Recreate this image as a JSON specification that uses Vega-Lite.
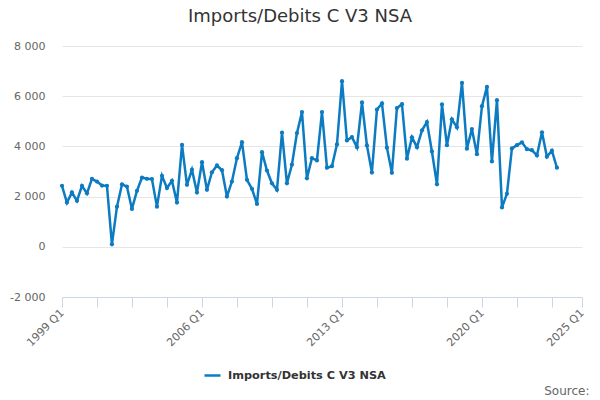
{
  "$schema": "https://vega.github.io/schema/vega-lite/v6.json",
  "description": "Imports/Debits C V3 NSA, quarterly",
  "autosize": "none",
  "padding": {"left": 62, "top": 46, "right": 18, "bottom": 103},
  "width": 520,
  "height": 251,
  "background": "#ffffff",
  "title": {
    "text": "Imports/Debits C V3 NSA",
    "dx": -22,
    "offset": 14
  },
  "data": {
    "values": [
      {"date": "1999-01-01", "value": 2430}, {"date": "1999-04-01", "value": 1760}, {"date": "1999-07-01", "value": 2170}, {"date": "1999-10-01", "value": 1830},
      {"date": "2000-01-01", "value": 2430}, {"date": "2000-04-01", "value": 2130}, {"date": "2000-07-01", "value": 2710}, {"date": "2000-10-01", "value": 2600},
      {"date": "2001-01-01", "value": 2440}, {"date": "2001-04-01", "value": 2430}, {"date": "2001-07-01", "value": 100}, {"date": "2001-10-01", "value": 1600},
      {"date": "2002-01-01", "value": 2490}, {"date": "2002-04-01", "value": 2400}, {"date": "2002-07-01", "value": 1510}, {"date": "2002-10-01", "value": 2230},
      {"date": "2003-01-01", "value": 2760}, {"date": "2003-04-01", "value": 2710}, {"date": "2003-07-01", "value": 2700}, {"date": "2003-10-01", "value": 1600},
      {"date": "2004-01-01", "value": 2830}, {"date": "2004-04-01", "value": 2340}, {"date": "2004-07-01", "value": 2630}, {"date": "2004-10-01", "value": 1760},
      {"date": "2005-01-01", "value": 4060}, {"date": "2005-04-01", "value": 2470}, {"date": "2005-07-01", "value": 3070}, {"date": "2005-10-01", "value": 2160},
      {"date": "2006-01-01", "value": 3370}, {"date": "2006-04-01", "value": 2270}, {"date": "2006-07-01", "value": 2970}, {"date": "2006-10-01", "value": 3240},
      {"date": "2007-01-01", "value": 3050}, {"date": "2007-04-01", "value": 2000}, {"date": "2007-07-01", "value": 2600}, {"date": "2007-10-01", "value": 3530},
      {"date": "2008-01-01", "value": 4170}, {"date": "2008-04-01", "value": 2670}, {"date": "2008-07-01", "value": 2310}, {"date": "2008-10-01", "value": 1710},
      {"date": "2009-01-01", "value": 3770}, {"date": "2009-04-01", "value": 3040}, {"date": "2009-07-01", "value": 2530}, {"date": "2009-10-01", "value": 2270},
      {"date": "2010-01-01", "value": 4550}, {"date": "2010-04-01", "value": 2530}, {"date": "2010-07-01", "value": 3270}, {"date": "2010-10-01", "value": 4530},
      {"date": "2011-01-01", "value": 5370}, {"date": "2011-04-01", "value": 2730}, {"date": "2011-07-01", "value": 3530}, {"date": "2011-10-01", "value": 3440},
      {"date": "2012-01-01", "value": 5370}, {"date": "2012-04-01", "value": 3150}, {"date": "2012-07-01", "value": 3210}, {"date": "2012-10-01", "value": 4080},
      {"date": "2013-01-01", "value": 6600}, {"date": "2013-04-01", "value": 4240}, {"date": "2013-07-01", "value": 4370}, {"date": "2013-10-01", "value": 3970},
      {"date": "2014-01-01", "value": 5750}, {"date": "2014-04-01", "value": 4040}, {"date": "2014-07-01", "value": 2960}, {"date": "2014-10-01", "value": 5470},
      {"date": "2015-01-01", "value": 5710}, {"date": "2015-04-01", "value": 3950}, {"date": "2015-07-01", "value": 2950}, {"date": "2015-10-01", "value": 5530},
      {"date": "2016-01-01", "value": 5680}, {"date": "2016-04-01", "value": 3510}, {"date": "2016-07-01", "value": 4360}, {"date": "2016-10-01", "value": 3970},
      {"date": "2017-01-01", "value": 4640}, {"date": "2017-04-01", "value": 4970}, {"date": "2017-07-01", "value": 3800}, {"date": "2017-10-01", "value": 2490},
      {"date": "2018-01-01", "value": 5670}, {"date": "2018-04-01", "value": 4050}, {"date": "2018-07-01", "value": 5080}, {"date": "2018-10-01", "value": 4760},
      {"date": "2019-01-01", "value": 6530}, {"date": "2019-04-01", "value": 3910}, {"date": "2019-07-01", "value": 4690}, {"date": "2019-10-01", "value": 3690},
      {"date": "2020-01-01", "value": 5600}, {"date": "2020-04-01", "value": 6370}, {"date": "2020-07-01", "value": 3400}, {"date": "2020-10-01", "value": 5840},
      {"date": "2021-01-01", "value": 1570}, {"date": "2021-04-01", "value": 2110}, {"date": "2021-07-01", "value": 3920}, {"date": "2021-10-01", "value": 4050},
      {"date": "2022-01-01", "value": 4160}, {"date": "2022-04-01", "value": 3890}, {"date": "2022-07-01", "value": 3850}, {"date": "2022-10-01", "value": 3640},
      {"date": "2023-01-01", "value": 4560}, {"date": "2023-04-01", "value": 3590}, {"date": "2023-07-01", "value": 3830}, {"date": "2023-10-01", "value": 3150}
    ]
  },
  "transform": [{"calculate": "'Imports/Debits C V3 NSA'", "as": "series"}],
  "mark": {
    "type": "line",
    "strokeWidth": 2.5,
    "point": {"filled": true, "size": 18}
  },
  "encoding": {
    "x": {
      "field": "date",
      "type": "temporal",
      "scale": {
        "type": "utc",
        "domain": [
          {"year": 1999, "month": 1, "date": 1, "utc": true},
          {"year": 2025, "month": 1, "date": 1, "utc": true}
        ],
        "nice": false
      },
      "axis": {
        "title": "Source:",
        "values": [
          {"year": 1999, "month": 1, "date": 1, "utc": true},
          {"year": 2000, "month": 10, "date": 1, "utc": true},
          {"year": 2002, "month": 7, "date": 1, "utc": true},
          {"year": 2004, "month": 4, "date": 1, "utc": true},
          {"year": 2006, "month": 1, "date": 1, "utc": true},
          {"year": 2007, "month": 10, "date": 1, "utc": true},
          {"year": 2009, "month": 7, "date": 1, "utc": true},
          {"year": 2011, "month": 4, "date": 1, "utc": true},
          {"year": 2013, "month": 1, "date": 1, "utc": true},
          {"year": 2014, "month": 10, "date": 1, "utc": true},
          {"year": 2016, "month": 7, "date": 1, "utc": true},
          {"year": 2018, "month": 4, "date": 1, "utc": true},
          {"year": 2020, "month": 1, "date": 1, "utc": true},
          {"year": 2021, "month": 10, "date": 1, "utc": true},
          {"year": 2023, "month": 7, "date": 1, "utc": true},
          {"year": 2025, "month": 1, "date": 1, "utc": true}
        ],
        "labelExpr": "utcmonth(datum.value) == 0 ? utcFormat(datum.value, '%Y Q%q') : ''",
        "labelAngle": -45,
        "labelAlign": "right",
        "labelBaseline": "middle",
        "labelPadding": 4,
        "labelFontSize": 11,
        "labelColor": "#666666",
        "labelOverlap": false,
        "labelBound": false,
        "labelFlush": false,
        "grid": false,
        "domainColor": "#ccd6eb",
        "tickColor": "#ccd6eb",
        "tickSize": 10,
        "titleAnchor": "end",
        "titleAlign": "right",
        "titleBaseline": "alphabetic",
        "titleX": 527,
        "titleY": 97,
        "titleFontSize": 12,
        "titleFontWeight": "normal",
        "titleColor": "#666666"
      }
    },
    "y": {
      "field": "value",
      "type": "quantitative",
      "scale": {"domain": [-2000, 8000], "nice": false, "zero": false},
      "axis": {
        "title": null,
        "values": [-2000, 0, 2000, 4000, 6000, 8000],
        "labelExpr": "replace(replace(format(datum.value, ','), ',', ' '), '\u2212', '-')",
        "domain": false,
        "ticks": false,
        "labelPadding": 17,
        "labelFontSize": 11,
        "labelColor": "#666666",
        "gridColor": "#e6e6e6",
        "gridWidth": 1
      }
    },
    "color": {
      "field": "series",
      "type": "nominal",
      "scale": {"range": ["#0c7bc2"]},
      "legend": {
        "title": null,
        "orient": "none",
        "legendX": 141,
        "legendY": 320,
        "symbolType": "stroke",
        "symbolSize": 256,
        "symbolStrokeWidth": 2.5,
        "labelFontSize": 11.3,
        "labelFontWeight": "bold",
        "labelColor": "#333333",
        "labelOffset": 6,
        "labelLimit": 400
      }
    }
  },
  "config": {
    "font": "DejaVu Sans",
    "view": {"stroke": null},
    "title": {"fontSize": 18, "fontWeight": "normal", "color": "#333333", "anchor": "middle"}
  }
}
